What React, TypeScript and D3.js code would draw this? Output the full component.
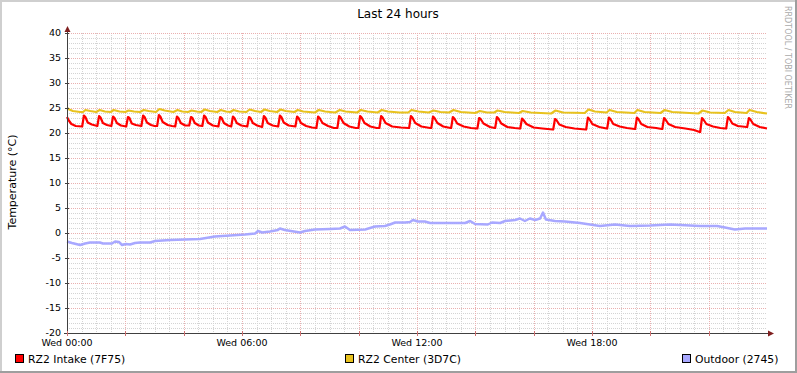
import * as d3 from 'd3';
import React from 'react';

// time in hours since Wed 00:00, value in °C
const intake: [number, number][] = [
  [0.00, 23.2], [0.05, 22.6], [0.15, 21.8], [0.30, 21.4],
  [0.52, 21.3], [0.58, 23.5], [0.63, 23.2], [0.71, 22.1], [0.85, 21.7],
  [1.04, 21.4], [1.10, 23.4], [1.15, 23.1], [1.23, 22.0], [1.37, 21.6],
  [1.52, 21.4], [1.58, 23.3], [1.63, 23.0], [1.71, 22.0], [1.85, 21.5],
  [2.03, 21.3], [2.09, 23.2], [2.14, 23.0], [2.22, 21.9], [2.36, 21.6],
  [2.55, 21.4], [2.61, 23.5], [2.66, 23.2], [2.74, 22.1], [2.88, 21.6], [3.00, 21.4],
  [3.09, 21.4], [3.15, 23.6], [3.20, 23.3], [3.28, 22.2], [3.45, 21.6], [3.60, 21.4],
  [3.71, 21.3], [3.77, 23.3], [3.82, 23.0], [3.90, 22.0], [4.05, 21.5],
  [4.19, 21.5], [4.25, 23.2], [4.30, 23.0], [4.38, 22.0], [4.52, 21.5],
  [4.64, 21.4], [4.70, 23.5], [4.75, 23.2], [4.83, 22.1], [5.00, 21.5],
  [5.19, 21.3], [5.25, 23.2], [5.30, 23.0], [5.38, 22.0], [5.52, 21.5],
  [5.63, 21.3], [5.69, 23.3], [5.74, 23.0], [5.82, 22.0], [5.98, 21.5],
  [6.18, 21.3], [6.24, 23.2], [6.29, 23.0], [6.37, 22.0], [6.52, 21.5],
  [6.69, 21.2], [6.75, 23.4], [6.80, 23.1], [6.88, 22.0], [7.05, 21.5],
  [7.24, 21.3], [7.30, 23.5], [7.35, 23.2], [7.43, 22.1], [7.60, 21.5],
  [7.83, 21.3], [7.89, 23.3], [7.94, 23.0], [8.02, 22.0], [8.20, 21.4], [8.40, 21.1],
  [8.55, 21.0], [8.61, 23.3], [8.66, 23.0], [8.76, 22.0], [8.95, 21.4], [9.15, 21.0],
  [9.27, 21.0], [9.33, 23.4], [9.38, 23.1], [9.48, 22.0], [9.68, 21.3], [9.90, 21.0],
  [9.99, 21.0], [10.05, 23.4], [10.10, 23.1], [10.20, 22.0], [10.40, 21.3], [10.62, 21.0],
  [10.71, 21.0], [10.77, 23.4], [10.82, 23.1], [10.92, 22.0], [11.15, 21.3], [11.45, 21.1], [11.70, 21.0],
  [11.73, 21.0], [11.79, 23.4], [11.84, 23.1], [11.94, 22.0], [12.15, 21.3], [12.45, 21.0],
  [12.49, 21.0], [12.55, 23.3], [12.60, 23.0], [12.70, 22.0], [12.90, 21.3], [13.15, 21.0],
  [13.17, 21.0], [13.23, 23.2], [13.28, 22.9], [13.38, 21.9], [13.60, 21.3], [13.85, 21.0], [14.05, 20.9],
  [14.07, 20.9], [14.13, 23.0], [14.18, 22.8], [14.28, 21.9], [14.50, 21.2], [14.66, 21.0],
  [14.68, 21.0], [14.74, 23.2], [14.79, 22.9], [14.89, 21.9], [15.10, 21.2], [15.35, 21.0], [15.52, 20.9],
  [15.54, 20.9], [15.60, 22.9], [15.65, 22.6], [15.75, 21.8], [16.00, 21.1], [16.30, 20.9], [16.65, 20.7],
  [16.67, 20.7], [16.73, 22.8], [16.78, 22.6], [16.88, 21.7], [17.10, 21.2], [17.40, 20.9], [17.78, 20.7],
  [17.80, 20.7], [17.86, 23.1], [17.91, 22.8], [18.01, 21.8], [18.25, 21.2], [18.50, 20.9],
  [18.52, 20.9], [18.58, 23.1], [18.63, 22.8], [18.73, 21.8], [18.95, 21.3], [19.20, 21.0], [19.46, 20.8],
  [19.48, 20.8], [19.54, 23.1], [19.59, 22.8], [19.69, 21.8], [19.90, 21.2], [20.20, 21.0], [20.39, 20.8],
  [20.41, 20.8], [20.47, 23.0], [20.52, 22.7], [20.62, 21.8], [20.85, 21.2], [21.20, 20.9], [21.50, 20.6], [21.69, 20.2],
  [21.71, 20.2], [21.77, 23.0], [21.82, 22.7], [21.92, 21.8], [22.15, 21.3], [22.40, 21.0], [22.58, 20.9],
  [22.60, 20.9], [22.66, 23.2], [22.71, 22.9], [22.81, 21.9], [23.00, 21.4], [23.30, 21.2],
  [23.32, 21.2], [23.38, 23.0], [23.43, 22.7], [23.53, 21.8], [23.75, 21.2], [24.00, 20.9],
];

const center: [number, number][] = [
  [0.00, 25.0], [0.08, 24.7], [0.20, 24.4], [0.45, 24.2],
  [0.55, 24.2], [0.63, 24.6], [0.80, 24.4], [1.00, 24.2],
  [1.12, 24.6], [1.30, 24.3], [1.50, 24.2],
  [1.60, 24.6], [1.80, 24.3], [2.00, 24.2],
  [2.11, 24.5], [2.30, 24.3], [2.50, 24.2],
  [2.63, 24.6], [2.80, 24.4], [3.05, 24.2],
  [3.17, 24.8], [3.35, 24.5], [3.65, 24.2],
  [3.79, 24.6], [3.95, 24.3], [4.15, 24.2],
  [4.27, 24.5], [4.45, 24.3], [4.60, 24.2],
  [4.72, 24.7], [4.90, 24.4], [5.15, 24.2],
  [5.27, 24.6], [5.45, 24.3], [5.60, 24.2],
  [5.71, 24.6], [5.90, 24.3], [6.15, 24.2],
  [6.26, 24.7], [6.45, 24.4], [6.65, 24.2],
  [6.77, 24.7], [6.95, 24.4], [7.20, 24.2],
  [7.32, 24.7], [7.50, 24.4], [7.80, 24.2],
  [7.91, 24.6], [8.10, 24.3], [8.50, 24.1],
  [8.63, 24.6], [8.85, 24.3], [9.20, 24.1],
  [9.35, 24.6], [9.55, 24.3], [9.95, 24.1],
  [10.07, 24.6], [10.30, 24.3], [10.65, 24.1],
  [10.79, 24.6], [11.00, 24.3], [11.40, 24.1], [11.70, 24.1],
  [11.81, 24.6], [12.05, 24.3], [12.40, 24.1],
  [12.57, 24.5], [12.80, 24.2], [13.10, 24.1],
  [13.25, 24.6], [13.50, 24.2], [14.00, 24.0],
  [14.15, 24.4], [14.40, 24.1], [14.65, 24.1],
  [14.76, 24.5], [15.00, 24.2], [15.50, 24.0],
  [15.62, 24.4], [15.90, 24.1], [16.60, 23.9],
  [16.75, 24.5], [17.00, 24.1], [17.75, 24.0],
  [17.88, 24.7], [18.10, 24.3], [18.50, 24.1],
  [18.60, 24.6], [18.85, 24.2], [19.45, 24.0],
  [19.56, 24.6], [19.80, 24.2], [20.35, 24.0],
  [20.49, 24.6], [20.75, 24.2], [21.65, 23.9],
  [21.79, 24.5], [22.05, 24.1], [22.55, 24.0],
  [22.68, 24.6], [22.90, 24.2], [23.30, 24.0],
  [23.40, 24.6], [23.65, 24.2], [24.00, 23.9],
];

const outdoor: [number, number][] = [
  [0.00, -1.7], [0.17, -2.0], [0.45, -2.4], [0.62, -2.1], [0.79, -1.9], [1.13, -1.9],
  [1.23, -2.1], [1.54, -2.1], [1.65, -1.7], [1.78, -1.8], [1.89, -2.4], [2.02, -2.2],
  [2.16, -2.3], [2.33, -2.0], [2.50, -1.9], [2.85, -1.9], [3.02, -1.6], [3.53, -1.4],
  [4.05, -1.3], [4.56, -1.2], [5.07, -0.7], [5.59, -0.5], [6.10, -0.3], [6.45, -0.1],
  [6.55, 0.4], [6.69, 0.1], [6.96, 0.3], [7.23, 0.6], [7.30, 0.9], [7.47, 0.6],
  [7.99, 0.1], [8.16, 0.4], [8.50, 0.7], [9.02, 0.8], [9.36, 0.9], [9.53, 1.3],
  [9.70, 0.6], [10.22, 0.7], [10.56, 1.3], [10.90, 1.4], [11.07, 1.7], [11.25, 2.1],
  [11.59, 2.1], [11.76, 2.2], [11.86, 2.6], [12.03, 2.3], [12.27, 2.3], [12.45, 2.0],
  [13.13, 2.0], [13.65, 2.0], [13.82, 2.4], [13.99, 1.8], [14.43, 1.7], [14.57, 2.1],
  [14.85, 2.0], [15.02, 2.4], [15.36, 2.6], [15.53, 2.9], [15.70, 2.4], [15.87, 2.9],
  [16.05, 2.6], [16.22, 2.9], [16.32, 4.1], [16.42, 2.7], [16.73, 2.4], [17.07, 2.3],
  [17.59, 2.0], [17.93, 1.7], [18.27, 1.4], [18.79, 1.7], [19.30, 1.4], [19.99, 1.5],
  [20.67, 1.7], [21.02, 1.6], [21.70, 1.4], [22.29, 1.4], [22.56, 1.1], [22.90, 0.7],
  [23.25, 0.9], [24.00, 0.9],
];

const yTicks = [-20, -15, -10, -5, 0, 5, 10, 15, 20, 25, 30, 35, 40];
const xTickHours = [0, 6, 12, 18];
const xTickLabels = ['Wed 00:00', 'Wed 06:00', 'Wed 12:00', 'Wed 18:00'];

const legend = [
  { label: 'RZ2 Intake (7F75)', color: '#ff0000', x: 15 },
  { label: 'RZ2 Center (3D7C)', color: '#e8c21e', x: 345 },
  { label: 'Outdoor (2745)', color: '#a8a8ff', x: 682 },
];

const width = 797;
const height = 373;
const left = 67;
const right = 767;
const top = 33;
const bottom = 333;
const font = 'DejaVu Sans, sans-serif';

export default function App() {
  const x = d3.scaleLinear().domain([0, 24]).range([left, right]);
  const y = d3.scaleLinear().domain([-20, 40]).range([bottom, top]);

  const line = d3.line<[number, number]>()
    .x(d => x(d[0]))
    .y(d => y(d[1]));

  const minorY = d3.range(-20, 41, 1).filter(v => v % 5 !== 0);
  const minorX = d3.range(0, 24, 0.5).filter(h => h % 2 !== 0);
  const majorX = d3.range(0, 24, 2);

  return (
    <svg width={width} height={height} style={{ position: 'absolute', left: 0, top: 0 }}
      fontFamily={font}>
      <rect x={0} y={0} width={width} height={height} fill="#ffffff" />
      {/* 3d frame */}
      <rect x={0} y={0} width={width} height={2} fill="#cfcfcf" />
      <rect x={0} y={0} width={2} height={height} fill="#cfcfcf" />
      <rect x={0} y={height - 2} width={width} height={2} fill="#9e9e9e" />
      <rect x={width - 2} y={0} width={2} height={height} fill="#9e9e9e" />

      <text x={398} y={18} textAnchor="middle" fontSize={12}>Last 24 hours</text>

      {/* grid */}
      <g shapeRendering="crispEdges" strokeWidth={1} strokeDasharray="1,1">
        {minorY.map(v => (
          <line key={'my' + v} x1={left} x2={right} y1={y(v) + 0.5} y2={y(v) + 0.5} stroke="#d4d4d4" />
        ))}
        {minorX.map(h => (
          <line key={'mx' + h} x1={Math.round(x(h)) + 0.5} x2={Math.round(x(h)) + 0.5} y1={top} y2={bottom} stroke="#d4d4d4" />
        ))}
        {yTicks.map(v => (
          <line key={'gy' + v} x1={left} x2={right} y1={y(v) + 0.5} y2={y(v) + 0.5} stroke="#eab0b0" />
        ))}
        {majorX.map(h => (
          <line key={'gx' + h} x1={Math.round(x(h)) + 0.5} x2={Math.round(x(h)) + 0.5} y1={top} y2={bottom} stroke="#eab0b0" />
        ))}
      </g>

      {/* series */}
      <g fill="none" strokeWidth={2} strokeLinejoin="round">
        <path d={line(outdoor) ?? ''} stroke="#a8a8ff" strokeWidth={2.5} />
        <path d={line(center) ?? ''} stroke="#e8c21e" strokeWidth={2.2} />
        <path d={line(intake) ?? ''} stroke="#ff0000" strokeWidth={2.2} />
      </g>

      {/* axes */}
      <g shapeRendering="crispEdges">
        <line x1={left + 0.5} x2={left + 0.5} y1={bottom + 3} y2={top - 4} stroke="#404040" />
        <line x1={left - 3} x2={right + 4} y1={bottom + 0.5} y2={bottom + 0.5} stroke="#404040" />
        {yTicks.map(v => (
          <line key={'ty' + v} x1={left - 2} x2={left + 2} y1={y(v) + 0.5} y2={y(v) + 0.5} stroke="#404040" />
        ))}
        {majorX.map(h => (
          <line key={'tx' + h} x1={Math.round(x(h)) + 0.5} x2={Math.round(x(h)) + 0.5} y1={bottom - 2} y2={bottom + 3} stroke="#d07070" />
        ))}
      </g>
      <path d={`M${left - 2.5},${top - 1}L${left + 3.5},${top - 1}L${left + 0.5},${top - 7}Z`} fill="#7f1f1f" />
      <path d={`M${right + 1},${bottom - 2.5}L${right + 1},${bottom + 3.5}L${right + 7},${bottom + 0.5}Z`} fill="#7f1f1f" />

      {yTicks.map(v => (
        <text key={'ly' + v} x={left - 6} y={y(v)} dy="0.35em" textAnchor="end" fontSize={9.5}>{v}</text>
      ))}
      {xTickHours.map((h, i) => (
        <text key={'lx' + h} x={x(h)} y={346} textAnchor="middle" fontSize={9.5}>{xTickLabels[i]}</text>
      ))}

      <text transform="translate(16,182) rotate(-90)" textAnchor="middle" fontSize={11}>Temperature (°C)</text>
      <text transform="translate(785,6) rotate(90)" fontSize={8} fill="#aaaaaa">RRDTOOL / TOBI OETIKER</text>

      {legend.map(l => (
        <g key={l.label}>
          <rect x={l.x + 0.5} y={354.5} width={8} height={8} fill={l.color} stroke="#000000" shapeRendering="crispEdges" />
          <text x={l.x + 13} y={363} fontSize={10.8}>{l.label}</text>
        </g>
      ))}
    </svg>
  );
}
